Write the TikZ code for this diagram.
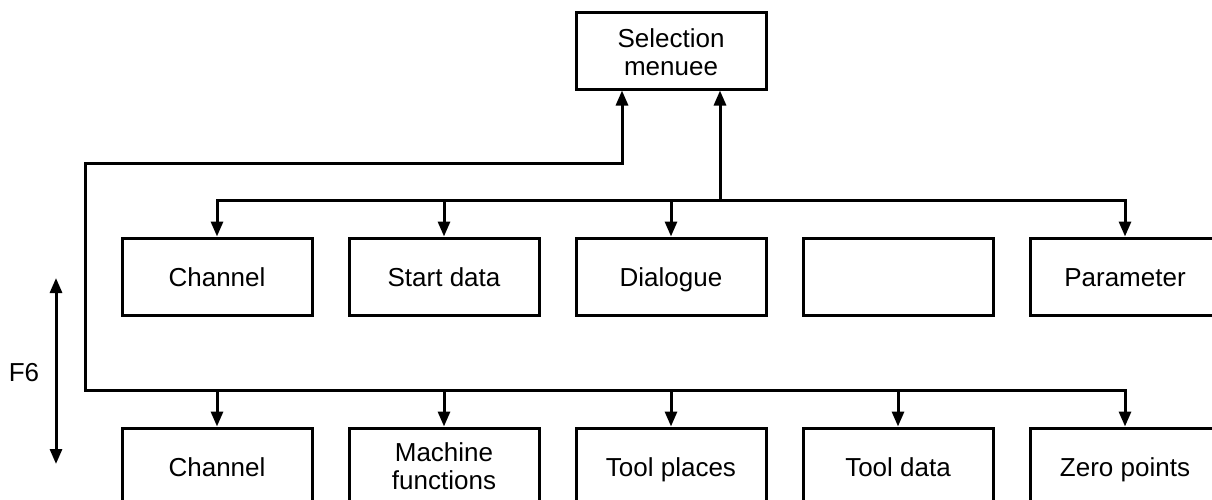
\documentclass[tikz,border=0pt]{standalone}
\usepackage{fontspec}
\setmainfont{Liberation Sans}
\usetikzlibrary{arrows.meta}
\begin{document}
\begin{tikzpicture}[x=1pt,y=-1pt,
  box/.style={draw, line width=3pt, minimum width=190pt, minimum height=77pt, inner sep=0pt, align=center, font=\fontsize{26}{28}\selectfont},
  one/.style={text height=21pt, text depth=1.5pt},
  conn/.style={line width=3pt, -{Triangle[length=15pt,width=12pt]}},
  both/.style={line width=3pt, {Triangle[length=15pt,width=12pt]}-{Triangle[length=15pt,width=12pt]}}]
\clip (0,0) rectangle (1212,499);
\node[box] (sel) at (671,50.5) {\rule{0pt}{22pt}Selection\\menuee};
\node[box,one] (t1) at (217,276.5) {Channel};
\node[box,one] (t2) at (444,276.5) {Start data};
\node[box,one] (t3) at (671,276.5) {Dialogue};
\node[box,one] (t4) at (898,276.5) {};
\node[box,one] (t5) at (1125,276.5) {Parameter};
\node[box,one] (b1) at (217,466.5) {Channel};
\node[box] (b2) at (444,466.5) {Machine\\functions};
\node[box,one] (b3) at (671,466.5) {Tool places};
\node[box,one] (b4) at (898,466.5) {Tool data};
\node[box,one] (b5) at (1125,466.5) {Zero points};
\coordinate (tb) at (720,200);
\coordinate (lt) at (85,163);
\coordinate (bl) at (85,390);
% top bus
\draw[both] (t1.north) |- (t5.north |- tb) -- (t5.north);
\draw[conn] (t2.north |- tb) -- (t2.north);
\draw[conn] (t3.north |- tb) -- (t3.north);
\draw[conn] (tb) -- ([xshift=49pt]sel.south);
% bottom bus
\draw[both] ([xshift=-49pt]sel.south) |- (lt) -- (bl) -| (b5.north);
\draw[conn] (b1.north |- bl) -- (b1.north);
\draw[conn] (b2.north |- bl) -- (b2.north);
\draw[conn] (b3.north |- bl) -- (b3.north);
\draw[conn] (b4.north |- bl) -- (b4.north);
% F6
\coordinate (f6t) at (56,278);
\coordinate (f6b) at (56,464);
\draw[both] (f6t) -- (f6b);
\node[font=\fontsize{26}{28}\selectfont] (f6) at (24,373) {F6};
\end{tikzpicture}
\end{document}
